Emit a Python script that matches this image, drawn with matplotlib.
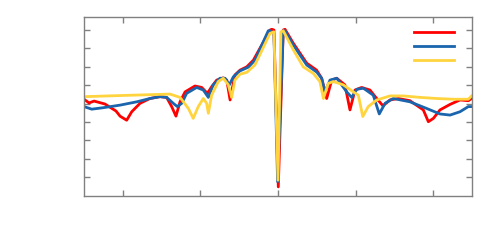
import numpy as np
import matplotlib
matplotlib.use("Agg")
import matplotlib.pyplot as plt

# Richtcharakteristik (normiert, dB) ueber u = sin(theta)
u_rot = [-1.0, -0.974, -0.948, -0.892, -0.835, -0.814, -0.780, -0.754, -0.711, -0.660,
         -0.608, -0.574, -0.548, -0.526, -0.505, -0.479, -0.428, -0.393, -0.364, -0.342,
         -0.316, -0.282, -0.264, -0.247, -0.222, -0.196, -0.161, -0.127, -0.041, -0.032,
         -0.021, 0.0015, 0.027, 0.036, 0.079, 0.148, 0.199, 0.225, 0.251, 0.277,
         0.303, 0.345, 0.371, 0.397, 0.431, 0.474, 0.509, 0.541, 0.577, 0.620,
         0.680, 0.749, 0.775, 0.801, 0.835, 0.887, 0.938, 0.981, 0.998]
db_rot = [-18.8, -19.8, -19.3, -20.1, -22.0, -23.4, -24.5, -22.2, -19.9, -18.6,
          -18.1, -18.3, -20.8, -23.4, -19.5, -16.8, -15.2, -15.6, -17.2, -15.4,
          -13.6, -13.0, -13.6, -19.0, -12.2, -10.9, -10.0, -8.2, 0.0, 0.2,
          0.0, -42.6, 0.0, 0.2, -3.6, -9.0, -10.9, -13.1, -18.6, -13.6,
          -13.1, -14.9, -21.7, -16.3, -15.6, -16.3, -18.6, -20.6, -19.0, -18.6,
          -19.2, -21.7, -24.9, -24.0, -21.7, -20.2, -19.0, -19.2, -18.6]

u_blau = [-1.0, -0.960, -0.901, -0.814, -0.728, -0.660, -0.608, -0.574, -0.540, -0.519,
          -0.496, -0.471, -0.419, -0.385, -0.359, -0.334, -0.299, -0.273, -0.251, -0.230,
          -0.196, -0.153, -0.119, -0.050, -0.041, -0.021, -0.002, 0.027, 0.036, 0.079,
          0.148, 0.199, 0.225, 0.242, 0.268, 0.303, 0.354, 0.380, 0.406, 0.440,
          0.491, 0.522, 0.552, 0.594, 0.680, 0.766, 0.835, 0.887, 0.938, 0.981, 0.998]
db_blau = [-20.8, -21.5, -21.1, -20.4, -19.5, -18.6, -18.1, -18.3, -19.9, -20.8,
           -19.9, -17.2, -15.6, -16.3, -18.3, -14.9, -13.1, -13.1, -14.9, -12.7,
           -11.1, -10.1, -8.2, -0.2, -0.2, -0.9, -41.2, -0.2, -0.2, -4.1,
           -9.5, -11.4, -13.1, -16.8, -13.6, -13.1, -16.8, -18.3, -16.1, -15.8,
           -17.7, -22.8, -19.9, -18.6, -19.5, -21.3, -22.8, -23.1, -22.2, -20.8, -20.8]

u_gelb = [-1.0, -0.814, -0.557, -0.505, -0.462, -0.437, -0.411, -0.385, -0.368, -0.359,
          -0.342, -0.308, -0.282, -0.256, -0.239, -0.222, -0.196, -0.161, -0.119, -0.041,
          -0.021, 0.0, 0.015, 0.027, 0.079, 0.130, 0.182, 0.216, 0.234, 0.259,
          0.285, 0.337, 0.388, 0.414, 0.437, 0.465, 0.509, 0.577, 0.646, 0.732,
          0.818, 0.904, 0.981, 0.998]
db_gelb = [-18.1, -17.8, -17.4, -18.3, -21.3, -24.0, -20.8, -18.6, -19.9, -22.6,
           -17.7, -14.0, -13.1, -14.9, -18.3, -13.6, -12.0, -11.5, -9.5, -0.9,
           -0.5, -40.8, -0.5, -0.2, -5.4, -10.0, -11.8, -14.0, -18.6, -14.5,
           -14.0, -14.9, -16.8, -17.7, -23.5, -20.8, -19.0, -17.9, -17.9, -18.3,
           -18.6, -18.8, -18.8, -17.9]

x_ticks = [-0.8, -0.4, 0.0, 0.4, 0.8]
y_ticks = [0, -5, -10, -15, -20, -25, -30, -35, -40]

fig = plt.figure(figsize=(5, 2.45), dpi=100)
ax = fig.add_axes([0.168, 0.2012, 0.776, 0.7274])

l1, = ax.plot(u_rot, db_rot, color="#ff0000", lw=2)
l2, = ax.plot(u_blau, db_blau, color="#1a65ad", lw=2)
l3, = ax.plot(u_gelb, db_gelb, color="#ffd43f", lw=2)

ax.set_xlim(-1, 1)
ax.set_ylim(-45, 3.4)
ax.set_xticks(x_ticks)
ax.set_yticks(y_ticks)
ax.tick_params(direction="in", length=4, width=1, color="#808080",
               top=True, right=True, labelleft=False, labelbottom=False)
for s in ax.spines.values():
    s.set_color("#808080")
    s.set_linewidth(1)

ax.legend([l1, l2, l3], ["", "", ""], loc="upper right", frameon=False,
          bbox_to_anchor=(0.979, 1.007),
          handlelength=2.9, handletextpad=0.0, labelspacing=0.0,
          borderaxespad=0.3, borderpad=0.4)

fig.savefig("out.png", dpi=100)
